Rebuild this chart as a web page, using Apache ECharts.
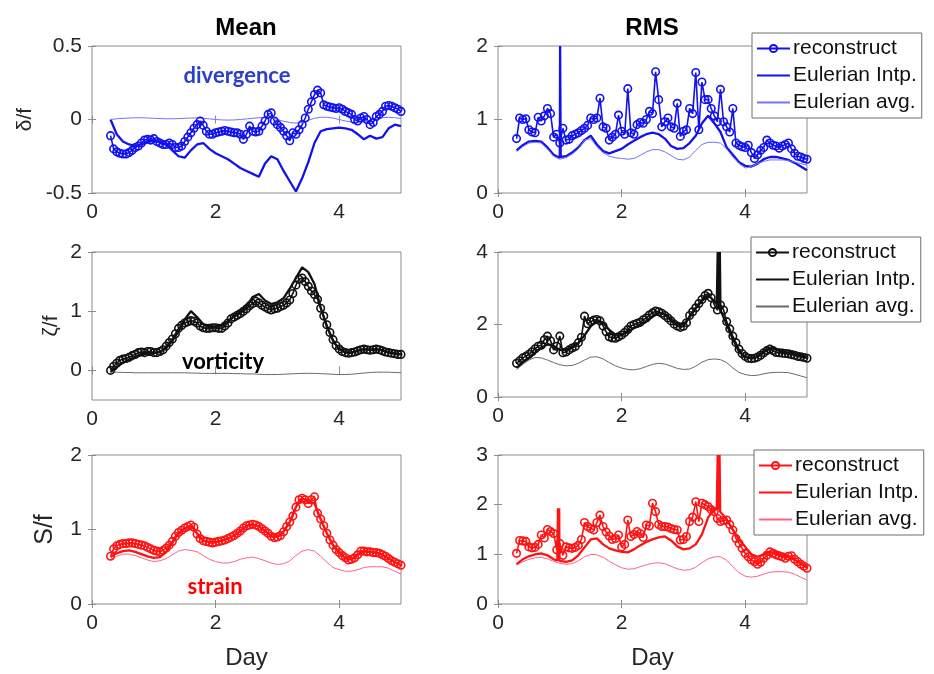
<!DOCTYPE html>
<html>
<head>
<meta charset="utf-8">
<script src="https://cdn.jsdelivr.net/npm/echarts@6/dist/echarts.min.js"></script>
<style>
  html, body { margin: 0; padding: 0; background: #fff; }
  #chart { width: 934px; height: 674px; }
</style>
</head>
<body>
<div id="chart"></div>
<script>
// sample days of the reconstruct series (every 0.05 day)
const days = [
  0.30,0.35,0.40,0.45,0.50,0.55,0.60,0.65,0.70,0.75,
  0.80,0.85,0.90,0.95,1.00,1.05,1.10,1.15,1.20,1.25,
  1.30,1.35,1.40,1.45,1.50,1.55,1.60,1.65,1.70,1.75,
  1.80,1.85,1.90,1.95,2.00,2.05,2.10,2.15,2.20,2.25,
  2.30,2.35,2.40,2.45,2.50,2.55,2.60,2.65,2.70,2.75,
  2.80,2.85,2.90,2.95,3.00,3.05,3.10,3.15,3.20,3.25,
  3.30,3.35,3.40,3.45,3.50,3.55,3.60,3.65,3.70,3.75,
  3.80,3.85,3.90,3.95,4.00,4.05,4.10,4.15,4.20,4.25,
  4.30,4.35,4.40,4.45,4.50,4.55,4.60,4.65,4.70,4.75,
  4.80,4.85,4.90,4.95,5.00
];
// sample days of the Eulerian curves (every 0.1 day)
const daysE = [
  0.3,0.4,0.5,0.6,0.7,0.8,0.9,1.0,1.1,1.2,
  1.3,1.4,1.5,1.6,1.7,1.8,1.9,2.0,2.1,2.2,
  2.3,2.4,2.5,2.6,2.7,2.8,2.9,3.0,3.1,3.2,
  3.3,3.4,3.5,3.6,3.7,3.8,3.9,4.0,4.1,4.2,
  4.3,4.4,4.5,4.6,4.7,4.8,4.9,5.0
];

// ---- divergence ----
const recDivMean = [
  -0.11,-0.20,-0.22,-0.23,-0.235,-0.235,-0.225,-0.21,-0.19,-0.18,
  -0.16,-0.14,-0.135,-0.14,-0.13,-0.15,-0.16,-0.17,-0.17,-0.16,
  -0.17,-0.19,-0.19,-0.18,-0.15,-0.12,-0.09,-0.06,-0.035,-0.01,
  -0.04,-0.08,-0.10,-0.10,-0.09,-0.085,-0.08,-0.075,-0.08,-0.085,
  -0.09,-0.09,-0.10,-0.135,-0.10,-0.045,-0.08,-0.085,-0.08,-0.045,
  -0.01,0.035,0.045,-0.01,-0.035,-0.055,-0.08,-0.11,-0.145,-0.09,
  -0.10,-0.07,-0.035,0.01,0.07,0.12,0.17,0.20,0.18,0.10,
  0.09,0.085,0.08,0.075,0.08,0.07,0.055,0.045,0.035,0.0,
  -0.01,0.01,0.02,0.0,-0.035,-0.02,0.02,0.035,0.055,0.09,
  0.095,0.09,0.08,0.07,0.055
];
const intpDivMean = [
  0.0,-0.10,-0.15,-0.17,-0.18,-0.17,-0.15,-0.14,-0.15,-0.17,
  -0.21,-0.25,-0.26,-0.21,-0.17,-0.16,-0.20,-0.23,-0.25,-0.27,
  -0.30,-0.33,-0.35,-0.37,-0.39,-0.30,-0.25,-0.27,-0.35,-0.42,
  -0.49,-0.40,-0.29,-0.16,-0.08,-0.065,-0.06,-0.055,-0.06,-0.07,
  -0.10,-0.135,-0.11,-0.13,-0.12,-0.06,-0.035,-0.045
];
const avgDivMean = [
  0.0,0.005,0.008,0.01,0.012,0.012,0.01,0.008,0.006,0.005,
  0.005,0.006,0.008,0.01,0.01,0.008,0.004,0.0,-0.003,-0.004,
  -0.003,0.0,0.004,0.008,0.012,0.015,0.012,0.0,-0.012,-0.02,
  -0.025,-0.02,-0.005,0.008,0.015,0.015,0.01,0.0,-0.01,-0.018,
  -0.02,-0.015,-0.005,0.005,0.012,0.015,0.012,0.008
];
const recDivRms = [
  0.74,1.02,1.00,1.01,0.86,0.83,0.82,1.03,0.98,1.05,
  1.15,1.08,0.76,0.80,0.68,0.88,0.72,0.73,0.78,0.80,
  0.82,0.85,0.88,0.92,1.02,1.00,1.02,1.29,0.90,0.88,
  0.72,0.76,0.80,1.06,0.84,0.80,1.42,0.82,0.80,0.93,
  0.96,0.95,1.00,1.11,1.08,1.65,1.27,0.90,0.97,1.02,
  0.90,0.88,1.22,0.77,0.84,0.86,1.15,1.08,1.64,0.86,
  1.51,1.27,1.27,1.15,1.05,0.97,1.41,0.97,0.90,0.83,
  1.15,0.68,0.65,0.63,0.62,0.65,0.55,0.47,0.52,0.58,
  0.62,0.72,0.68,0.65,0.64,0.61,0.64,0.66,0.68,0.60,
  0.54,0.50,0.49,0.47,0.46
];
const intpDivRms = [
  0.58,0.65,0.70,0.71,0.70,0.62,0.52,0.48,0.50,0.55,
  0.62,0.72,0.78,0.66,0.57,0.54,0.57,0.60,0.66,0.71,
  0.76,0.80,0.82,0.80,0.74,0.64,0.60,0.61,0.68,0.78,
  0.95,1.05,0.95,0.83,0.62,0.52,0.42,0.37,0.36,0.40,
  0.46,0.49,0.49,0.47,0.45,0.41,0.36,0.31
];
const spikeDivRms = [[1.005, 2.0], [1.015, 0.49]];
const avgDivRms = [
  0.56,0.63,0.68,0.69,0.68,0.60,0.50,0.46,0.48,0.53,
  0.60,0.72,0.74,0.63,0.55,0.50,0.48,0.47,0.46,0.47,
  0.51,0.56,0.59,0.59,0.56,0.51,0.46,0.45,0.49,0.58,
  0.66,0.69,0.69,0.68,0.60,0.49,0.40,0.34,0.36,0.40,
  0.43,0.45,0.45,0.45,0.44,0.42,0.40,0.38
];

// ---- vorticity ----
const recVorMean = [
  0.0,0.07,0.12,0.17,0.19,0.20,0.22,0.25,0.27,0.30,
  0.31,0.30,0.32,0.32,0.30,0.30,0.32,0.35,0.41,0.47,
  0.53,0.62,0.71,0.76,0.80,0.82,0.84,0.83,0.80,0.75,
  0.72,0.71,0.71,0.72,0.72,0.71,0.71,0.75,0.80,0.87,
  0.90,0.93,0.96,1.00,1.04,1.09,1.13,1.17,1.14,1.10,
  1.07,1.04,1.02,1.04,1.05,1.08,1.10,1.14,1.19,1.30,
  1.44,1.54,1.56,1.50,1.42,1.34,1.28,1.20,1.05,0.92,
  0.77,0.64,0.52,0.42,0.36,0.32,0.30,0.29,0.30,0.31,
  0.33,0.35,0.36,0.35,0.34,0.35,0.36,0.35,0.33,0.31,
  0.30,0.29,0.28,0.27,0.27
];
const intpVorMean = [
  -0.03,0.06,0.13,0.18,0.23,0.27,0.29,0.29,0.31,0.38,
  0.50,0.66,0.86,1.00,0.90,0.78,0.74,0.74,0.76,0.83,
  0.92,0.99,1.08,1.24,1.29,1.18,1.12,1.15,1.22,1.38,
  1.56,1.74,1.66,1.46,1.06,0.74,0.50,0.36,0.31,0.30,
  0.33,0.36,0.35,0.36,0.34,0.31,0.29,0.27
];
const avgVorMean = [
  -0.03,-0.03,-0.035,-0.035,-0.04,-0.04,-0.04,-0.04,-0.04,-0.04,
  -0.04,-0.04,-0.04,-0.045,-0.045,-0.05,-0.05,-0.05,-0.05,-0.05,
  -0.055,-0.055,-0.06,-0.06,-0.065,-0.07,-0.07,-0.07,-0.065,-0.06,
  -0.055,-0.05,-0.05,-0.05,-0.055,-0.06,-0.065,-0.07,-0.07,-0.065,
  -0.055,-0.045,-0.035,-0.03,-0.03,-0.03,-0.035,-0.04
];
const recVorRms = [
  0.93,1.00,1.08,1.12,1.18,1.25,1.33,1.40,1.43,1.58,
  1.68,1.55,1.30,1.40,1.68,1.22,1.24,1.30,1.35,1.39,
  1.50,1.65,2.23,2.02,2.08,2.12,2.14,2.10,1.96,1.80,
  1.66,1.63,1.62,1.66,1.71,1.78,1.86,1.96,2.00,2.03,
  2.06,2.13,2.18,2.26,2.32,2.37,2.35,2.31,2.25,2.18,
  2.10,2.01,1.96,1.92,1.95,2.05,2.25,2.35,2.46,2.58,
  2.69,2.80,2.86,2.74,2.55,2.40,2.54,2.40,2.08,1.88,
  1.68,1.50,1.32,1.20,1.12,1.07,1.06,1.07,1.10,1.15,
  1.22,1.28,1.32,1.28,1.23,1.22,1.21,1.20,1.19,1.17,
  1.15,1.12,1.11,1.09,1.07
];
const intpVorRms = [
  0.80,0.95,1.08,1.22,1.36,1.45,1.40,1.30,1.30,1.38,
  1.48,1.70,1.95,2.10,2.05,1.85,1.72,1.72,1.80,1.90,
  2.00,2.10,2.22,2.32,2.28,2.15,2.00,2.00,2.20,2.45,
  2.65,2.80,2.65,2.40,2.00,1.60,1.25,1.10,1.08,1.12,
  1.25,1.35,1.32,1.25,1.22,1.20,1.15,1.10
];
const spikeVorRms = [[3.54, 2.55], [3.555, 4.0], [3.57, 2.45], [3.59, 4.0], [3.605, 2.42]];
const avgVorRms = [
  0.76,0.90,1.02,1.09,1.08,1.02,0.95,0.89,0.86,0.87,
  0.93,1.02,1.10,1.11,1.05,0.95,0.86,0.80,0.76,0.75,
  0.78,0.84,0.90,0.93,0.91,0.85,0.79,0.76,0.77,0.85,
  0.96,1.03,1.05,1.03,0.95,0.80,0.68,0.62,0.59,0.60,
  0.64,0.67,0.68,0.68,0.67,0.63,0.58,0.53
];

// ---- strain ----
const recStrMean = [
  0.64,0.74,0.78,0.80,0.81,0.81,0.82,0.82,0.81,0.80,
  0.79,0.78,0.76,0.74,0.72,0.71,0.70,0.72,0.75,0.79,
  0.84,0.91,0.96,0.99,1.02,1.04,1.06,1.03,0.94,0.88,
  0.85,0.84,0.83,0.82,0.83,0.84,0.85,0.86,0.88,0.90,
  0.92,0.95,0.98,1.02,1.05,1.06,1.07,1.06,1.04,1.01,
  0.98,0.95,0.91,0.89,0.90,0.92,0.97,1.04,1.10,1.18,
  1.30,1.40,1.42,1.40,1.35,1.40,1.44,1.22,1.14,1.05,
  0.95,0.86,0.79,0.73,0.69,0.65,0.62,0.59,0.60,0.62,
  0.66,0.71,0.71,0.70,0.70,0.69,0.69,0.68,0.66,0.64,
  0.61,0.58,0.56,0.54,0.52
];
const intpStrMean = [
  0.63,0.68,0.71,0.72,0.70,0.67,0.64,0.62,0.63,0.70,
  0.82,0.95,1.01,1.05,0.95,0.85,0.83,0.83,0.85,0.88,
  0.92,0.98,1.05,1.07,1.04,0.98,0.91,0.90,0.97,1.10,
  1.30,1.42,1.38,1.35,1.14,0.95,0.79,0.69,0.62,0.60,
  0.66,0.71,0.70,0.69,0.66,0.61,0.56,0.52
];
const avgStrMean = [
  0.60,0.64,0.67,0.67,0.65,0.62,0.59,0.57,0.58,0.61,
  0.66,0.71,0.73,0.72,0.70,0.65,0.60,0.57,0.55,0.55,
  0.57,0.60,0.62,0.63,0.61,0.58,0.55,0.53,0.54,0.58,
  0.65,0.71,0.73,0.71,0.64,0.56,0.49,0.46,0.44,0.44,
  0.46,0.49,0.50,0.50,0.50,0.48,0.44,0.40
];
const recStrRms = [
  1.02,1.28,1.27,1.26,1.15,1.13,1.14,1.20,1.39,1.33,
  1.50,1.46,1.42,1.09,1.22,0.98,1.15,1.13,1.12,1.14,
  1.18,1.30,1.64,1.56,1.52,1.49,1.64,1.79,1.56,1.45,
  1.37,1.30,1.32,1.39,1.15,1.20,1.69,1.36,1.40,1.46,
  1.42,1.34,1.59,1.57,2.03,1.86,1.60,1.56,1.56,1.55,
  1.52,1.50,1.49,1.29,1.30,1.36,1.66,1.75,2.06,1.66,
  2.03,2.00,1.96,1.90,1.86,1.72,1.66,1.68,1.69,1.60,
  1.49,1.32,1.22,1.12,1.02,0.95,0.89,0.85,0.80,0.84,
  0.92,0.98,1.05,1.02,0.99,0.97,0.95,0.92,0.96,0.97,
  0.90,0.85,0.80,0.76,0.72
];
const intpStrRms = [
  0.80,0.90,0.96,1.00,1.02,0.98,0.90,0.86,0.85,0.88,
  0.98,1.14,1.30,1.32,1.20,1.12,1.08,1.05,1.04,1.10,
  1.18,1.25,1.30,1.34,1.36,1.28,1.16,1.10,1.12,1.20,
  1.40,1.74,1.92,1.85,1.70,1.50,1.30,1.15,1.00,0.95,
  1.00,1.05,1.02,0.99,0.94,0.89,0.82,0.74
];
const spikeStrRms = [
  [0.96, 0.87], [0.97, 1.93], [0.98, 0.95], [0.99, 1.93], [0.995, 0.87],
  [3.54, 1.90], [3.555, 3.0], [3.57, 1.90], [3.585, 3.0], [3.595, 1.86]
];
const avgStrRms = [
  0.78,0.85,0.90,0.93,0.94,0.91,0.86,0.82,0.80,0.81,
  0.87,0.95,1.00,0.99,0.94,0.86,0.79,0.73,0.70,0.71,
  0.75,0.79,0.82,0.83,0.81,0.76,0.71,0.68,0.69,0.74,
  0.83,0.91,0.95,0.95,0.88,0.75,0.63,0.56,0.54,0.56,
  0.60,0.64,0.65,0.65,0.64,0.60,0.54,0.48
];

// axes
const xTicks = [0, 2, 4];
const yRanges = [[-0.5, 0.5], [0, 2], [-0.5, 2], [0, 4], [0, 2], [0, 3]];
const yTicks = [[-0.5, 0, 0.5], [0, 1, 2], [0, 1, 2], [0, 2, 4], [0, 1, 2], [0, 1, 2, 3]];
const yNames = ['δ/f', '', 'ζ/f', '', 'S/f', ''];

const pair = (xs, ys) => ys.map((v, i) => [xs[i], v]);
const withSpike = (xs, ys, sp) => pair(xs, ys).concat(sp).sort((a, b) => a[0] - b[0]);

// plot layout, in px
const boxes = [
  { left: 92, top: 46, width: 309, height: 147 },
  { left: 498, top: 46, width: 309, height: 147 },
  { left: 92, top: 252, width: 309, height: 148 },
  { left: 498, top: 252, width: 309, height: 145 },
  { left: 92, top: 455, width: 309, height: 149 },
  { left: 498, top: 455, width: 309, height: 149 }
];
const nameGaps = [56, 0, 30, 0, 34, 0];
const nameSizes = [21, 21, 21, 21, 25, 21];

const colors = [
  { main: '#1212ee', avg: '#7474fa' },
  { main: '#111111', avg: '#6a6a6a' },
  { main: '#ff1212', avg: '#ff6482' }
];

const plots = [
  { rec: recDivMean, intp: pair(daysE, intpDivMean), avg: avgDivMean, c: colors[0] },
  { rec: recDivRms, intp: withSpike(daysE, intpDivRms, spikeDivRms), avg: avgDivRms, c: colors[0] },
  { rec: recVorMean, intp: pair(daysE, intpVorMean), avg: avgVorMean, c: colors[1] },
  { rec: recVorRms, intp: withSpike(daysE, intpVorRms, spikeVorRms), avg: avgVorRms, c: colors[1] },
  { rec: recStrMean, intp: pair(daysE, intpStrMean), avg: avgStrMean, c: colors[2] },
  { rec: recStrRms, intp: withSpike(daysE, intpStrRms, spikeStrRms), avg: avgStrRms, c: colors[2] }
];

const FONT = 'Liberation Sans';
const TXT = '#262626';
const BOX = '#8c8c8c';

const grid = [], xAxis = [], yAxis = [], series = [];

boxes.forEach((b, i) => {
  grid.push(Object.assign({ show: true, borderColor: BOX, borderWidth: 1, backgroundColor: '#fff' }, b));
  const tick = (vals) => ({ show: true, inside: true, length: 4, customValues: vals, lineStyle: { color: BOX } });
  // bottom + top x axes
  xAxis.push({
    gridIndex: i, type: 'value', min: 0, max: 5, interval: 2,
    axisLine: { show: false }, splitLine: { show: false },
    axisTick: tick(xTicks),
    axisLabel: { customValues: xTicks, fontSize: 21, fontFamily: FONT, color: TXT, margin: 9 },
    name: i >= 4 ? 'Day' : '', nameLocation: 'middle', nameGap: 42,
    nameTextStyle: { fontSize: 24, fontFamily: FONT, color: TXT }
  });
  xAxis.push({
    gridIndex: i, type: 'value', min: 0, max: 5, interval: 2, position: 'top',
    axisLine: { show: false }, splitLine: { show: false },
    axisTick: tick(xTicks), axisLabel: { show: false }
  });
  const [lo, hi] = yRanges[i];
  yAxis.push({
    gridIndex: i, type: 'value', min: lo, max: hi, interval: 0.5,
    axisLine: { show: false }, splitLine: { show: false },
    axisTick: tick(yTicks[i]),
    axisLabel: { customValues: yTicks[i], fontSize: 21, fontFamily: FONT, color: TXT, margin: 10 },
    name: yNames[i], nameLocation: 'middle', nameRotate: 90, nameGap: nameGaps[i],
    nameTextStyle: { fontSize: nameSizes[i], fontFamily: FONT, color: TXT }
  });
  yAxis.push({
    gridIndex: i, type: 'value', min: lo, max: hi, interval: 0.5, position: 'right',
    axisLine: { show: false }, splitLine: { show: false },
    axisTick: tick(yTicks[i]), axisLabel: { show: false }
  });

  const p = plots[i];
  const common = { type: 'line', xAxisIndex: 2 * i, yAxisIndex: 2 * i, animation: false, emphasis: { disabled: true } };
  series.push(Object.assign({}, common, {
    name: 'rec|' + i, data: pair(days, p.rec),
    symbol: 'circle', symbolSize: 7.5, showAllSymbol: true,
    itemStyle: { color: 'rgba(255,255,255,0)', borderColor: p.c.main, borderWidth: 1.6 },
    lineStyle: { color: p.c.main, width: 1.6 }
  }));
  series.push(Object.assign({}, common, {
    name: 'intp|' + i, data: p.intp, symbol: 'none',
    itemStyle: { color: p.c.main },
    lineStyle: { color: p.c.main, width: 2.3 }
  }));
  series.push(Object.assign({}, common, {
    name: 'avg|' + i, data: pair(daysE, p.avg), symbol: 'none',
    itemStyle: { color: p.c.avg },
    lineStyle: { color: p.c.avg, width: 1 }
  }));
});

const legendText = { rec: 'reconstruct', intp: 'Eulerian Intp.', avg: 'Eulerian avg.' };
const legendPos = [[1, 752, 33], [3, 751, 237], [5, 754, 450]];
const legend = legendPos.map(([i, l, t]) => ({
  data: [
    { name: 'rec|' + i },
    { name: 'intp|' + i, itemStyle: { opacity: 0 } },
    { name: 'avg|' + i, itemStyle: { opacity: 0 } }
  ],
  formatter: (n) => legendText[n.split('|')[0]],
  orient: 'vertical', left: l, top: t,
  itemWidth: 33, itemHeight: 9, itemGap: 6, padding: [5, 5, 5, 4],
  backgroundColor: '#fff', borderColor: '#6e6e6e', borderWidth: 1,
  selectedMode: false,
  textStyle: { fontSize: 21, fontFamily: FONT, color: '#111', padding: [0, 0, 0, -2] }
}));

const txt = (text, x, y, size, color, weight, family) => ({
  type: 'text', x: x, y: y, z: 100,
  style: { text: text, align: 'center', verticalAlign: 'middle', fontSize: size,
           fontWeight: weight || 'normal', fontFamily: family || FONT, fill: color }
});

const option = {
  backgroundColor: '#fff',
  animation: false,
  grid: grid, xAxis: xAxis, yAxis: yAxis, series: series, legend: legend,
  graphic: [
    txt('Mean', 246, 28, 24, '#000', 'bold'),
    txt('RMS', 652, 28, 24, '#000', 'bold'),
    txt('divergence', 237, 76, 22, '#2a40cc', 'bold', 'Lato'),
    txt('vorticity', 223, 362, 22, '#000', 'bold', 'Lato'),
    txt('strain', 215, 587, 22, '#ff0000', 'bold', 'Lato')
  ]
};

const myChart = echarts.init(document.getElementById('chart'));
myChart.setOption(option);
</script>
</body>
</html>
